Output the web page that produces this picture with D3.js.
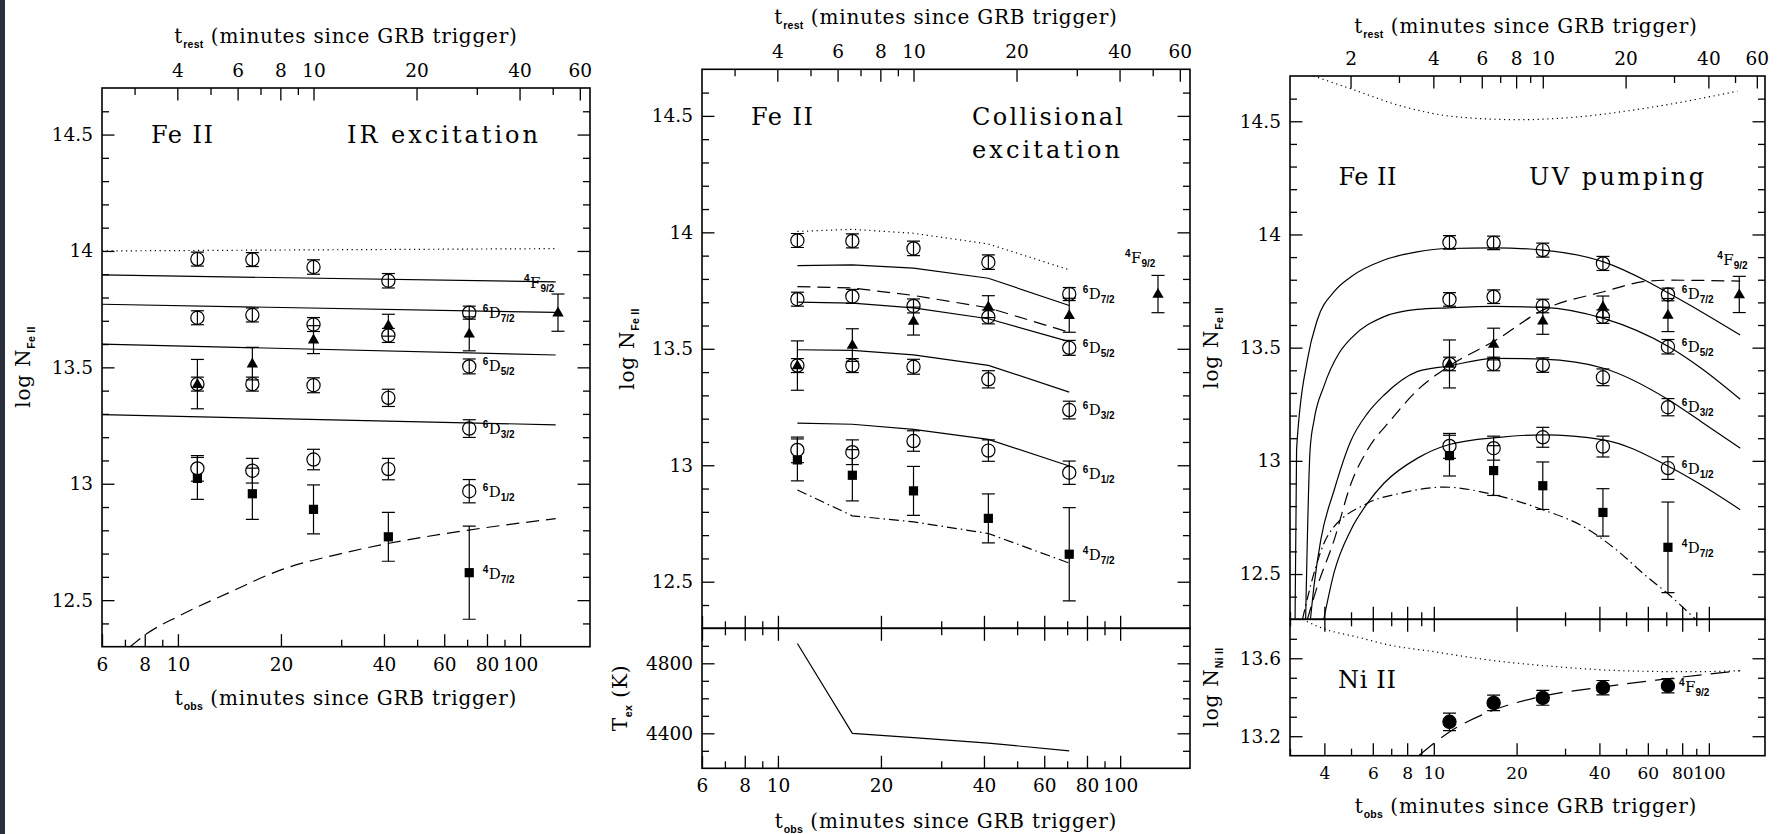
<!DOCTYPE html>
<html lang="en">
<head>
	<meta charset="UTF-8">
	<title>Fe II excited levels</title>
	<script type="text/javascript" src="https://cdn.jsdelivr.net/npm/d3@7"></script>
	<style>
		body { margin: 0; background: #fff; }
		svg text { font-family: "DejaVu Serif", "Liberation Serif", serif; fill: #000; }
		.axis text { font-size: 18.5px; letter-spacing: 0px; font-family: "DejaVu Serif", "Liberation Serif", serif; }
		.axis.tight text { font-size: 17px; }
		.axis line { stroke: #000; stroke-width: 1.3; }
		.frame { fill: none; stroke: #000; stroke-width: 1.6; }
		.title { font-size: 20px; letter-spacing: 0.8px; }
		.title .sub { font-family: "Liberation Sans", "DejaVu Sans", sans-serif; font-size: 10.5px; font-weight: bold; letter-spacing: 0.3px; }
		.big { font-size: 24px; }
		.lvl { font-size: 15px; }
		.lvl .sm { font-family: "Liberation Sans", "DejaVu Sans", sans-serif; font-size: 10px; font-weight: bold; }
		.model { fill: none; stroke: #000; stroke-width: 1.2; }
		.err line { stroke: #000; stroke-width: 1.2; }
	</style>
</head>
<body>
<div id="viz"></div>

<script type="text/javascript">
	// 1 + z : t_rest = t_obs / K
	var K = 2.49;

	// observed epochs (minutes since trigger, observer frame)
	var tObs = [11.4, 16.5, 24.9, 41.2, 71.0];
	var tF92 = [11.4, 16.5, 24.9, 41.2, 71.0, 129];

	// measured log N, Fe II excited levels
	var d72 = [13.965, 13.963, 13.931, 13.872, 13.735];
	var d72Err = [0.03, 0.03, 0.031, 0.031, 0.028];
	var d52 = [13.713, 13.725, 13.684, 13.637, 13.504];
	var d52Err = [0.03, 0.03, 0.03, 0.03, 0.032];
	var d32 = [13.428, 13.428, 13.423, 13.369, 13.237];
	var d32Err = [0.03, 0.03, 0.032, 0.037, 0.038];
	var d12 = [13.066, 13.056, 13.104, 13.063, 12.968];
	var d12Err = [0.055, 0.053, 0.044, 0.046, 0.05];
	var f92 = [13.428, 13.516, 13.619, 13.681, 13.644, 13.735];
	var f92Err = [0.106, 0.07, 0.06, 0.047, 0.073, 0.08];
	var d4 = [13.023, 12.957, 12.89, 12.772, 12.618];
	var d4Err = [0.09, 0.11, 0.105, 0.105, 0.2];
	// Ni II 4F9/2
	var ni = [13.274, 13.371, 13.397, 13.449, 13.459];
	var niErr = [0.045, 0.04, 0.038, 0.037, 0.037];

	// IR excitation model (panel 1)
	var irT = [6, 127];
	var irDot = [14.0, 14.01];
	var ir1 = [13.897, 13.867];
	var ir2 = [13.771, 13.736];
	var ir3 = [13.60, 13.553];
	var ir4 = [13.297, 13.253];
	var irDashT = [7.25, 8, 10, 14, 20, 30, 40, 70, 127];
	var irDash = [12.30, 12.35, 12.43, 12.53, 12.63, 12.70, 12.74, 12.80, 12.85];

	// collisional model (panel 2), at the observed epochs
	var colDot = [14.004, 14.013, 13.996, 13.95, 13.839];
	var col1 = [13.857, 13.86, 13.846, 13.803, 13.686];
	var colDash = [13.767, 13.761, 13.729, 13.676, 13.571];
	var col2 = [13.70, 13.696, 13.676, 13.629, 13.531];
	var col3 = [13.496, 13.493, 13.474, 13.429, 13.314];
	var col4 = [13.181, 13.176, 13.154, 13.111, 12.997];
	var colDashDot = [12.894, 12.783, 12.757, 12.707, 12.58];
	var tex = [4913, 4400, 4375, 4344, 4300];

	// UV pumping model (panel 3)
	var uvDotT = [3.65, 4.98, 7.68, 12.2, 20.7, 31.0, 57.6, 127];
	var uvDot = [14.70, 14.644, 14.566, 14.519, 14.507, 14.516, 14.556, 14.633];
	var uvAT = [3.13, 3.17, 3.47, 3.77, 4.34, 5.0, 6.6, 8.7, 11.3, 16.6, 24.9, 41.4, 60, 71.5, 93.8, 130];
	var uvA = [12.3, 13.05, 13.446, 13.622, 13.747, 13.813, 13.887, 13.923, 13.938, 13.941, 13.931, 13.879, 13.791, 13.74, 13.659, 13.556];
	var uvBT = [3.42, 3.55, 3.67, 3.98, 4.52, 5.0, 6.6, 8.7, 11.3, 16.6, 24.9, 41.4, 71.5, 93.8, 130];
	var uvB = [12.3, 13.05, 13.18, 13.328, 13.475, 13.541, 13.637, 13.669, 13.676, 13.682, 13.678, 13.629, 13.504, 13.409, 13.272];
	var uvCT = [3.56, 3.67, 3.88, 4.34, 5.0, 5.74, 6.6, 8.7, 11.3, 16.6, 24.9, 41.4, 71.5, 93.8, 130];
	var uvC = [12.3, 12.45, 12.65, 12.87, 13.09, 13.21, 13.291, 13.394, 13.419, 13.453, 13.449, 13.409, 13.269, 13.173, 13.056];
	var uvDT = [3.98, 4.34, 5.0, 5.74, 6.6, 8.73, 11.3, 17.3, 24.9, 41.4, 71.5, 93.8, 130];
	var uvD = [12.3, 12.507, 12.696, 12.813, 12.902, 13.012, 13.071, 13.104, 13.115, 13.093, 12.975, 12.894, 12.784];
	var uvDashT = [3.47, 3.77, 4.34, 5.0, 5.74, 6.98, 8.73, 11.3, 16.9, 24.9, 41.4, 60, 71.5, 130];
	var uvDash = [12.3, 12.445, 12.65, 12.9, 13.049, 13.181, 13.313, 13.416, 13.535, 13.666, 13.747, 13.794, 13.798, 13.794];
	var uvDDT = [3.33, 3.67, 4.1, 5.74, 7.6, 10.9, 16.6, 24.9, 34.9, 46.1, 59.3, 70.5, 89.5];
	var uvDD = [12.3, 12.505, 12.666, 12.813, 12.857, 12.884, 12.85, 12.784, 12.71, 12.607, 12.49, 12.416, 12.3];
	var niDotT = [3.33, 3.93, 5.2, 6.88, 10, 15.9, 27.8, 48.7, 85.2, 130];
	var niDot = [13.8, 13.754, 13.711, 13.668, 13.634, 13.591, 13.557, 13.536, 13.531, 13.536];
	var niDashT = [8.85, 11.4, 15.9, 24.2, 40.1, 64.4, 130];
	var niDash = [13.102, 13.222, 13.325, 13.402, 13.451, 13.488, 13.536];

	// tick values
	var obsMajorA = [6, 8, 10, 20, 40, 60, 80, 100];
	var obsMinorA = [7, 9, 30, 50, 70, 90];
	var obsMajorC = [4, 6, 8, 10, 20, 40, 60, 80, 100];
	var obsMinorC = [3, 5, 7, 9, 30, 50, 70, 90];
	var restMajorA = [4, 6, 8, 10, 20, 40, 60];
	var restMajorC = [2, 4, 6, 8, 10, 20, 40, 60];
	var restMinor = [3, 5, 7, 9, 30, 50];
	var feMajor = [12.5, 13, 13.5, 14, 14.5];
	var feMinor = [12.4, 12.6, 12.7, 12.8, 12.9, 13.1, 13.2, 13.3, 13.4, 13.6, 13.7, 13.8, 13.9, 14.1, 14.2, 14.3, 14.4, 14.6];
	var texMajor = [4400, 4800];
	var texMinor = [4300, 4500, 4600, 4700, 4900];
	var niMajor = [13.2, 13.6];
	var niMinor = [13.3, 13.4, 13.5, 13.7];

	window.onload = function () {

		var svg = d3.select('#viz').append('svg')
			.attr('width', 1779)
			.attr('height', 834);
		svg.append('rect').attr('width', 1779).attr('height', 834).attr('fill', '#fff');
		svg.append('rect').attr('width', 5).attr('height', 834).attr('fill', '#2b2f3b');
		var defs = svg.append('defs');
		var clipN = 0;

		function axis(g, gen, scale, vals, len, labels, pad, tr, cls) {
			var a = gen(scale).tickValues(vals).tickSize(-len).tickPadding(pad || 0)
				.tickFormat(function (d) {
					return labels.indexOf(d) >= 0 ? String(d) : '';
				});
			var s = g.append('g').attr('class', 'axis' + (cls ? ' ' + cls : '')).attr('transform', tr).call(a);
			s.select('.domain').remove();
			s.attr('font-size', null).attr('font-family', null);
		}

		function ticks(g, gen, scale, majors, minors, labels, pad, tr, cls) {
			axis(g, gen, scale, minors, 7, [], 0, tr);
			axis(g, gen, scale, majors, 12.5, labels, pad, tr, cls);
		}

		function clipFor(x0, y0, x1, y1) {
			var id = 'clip' + (clipN++);
			defs.append('clipPath').attr('id', id).append('rect')
				.attr('x', x0).attr('y', y0).attr('width', x1 - x0).attr('height', y1 - y0);
			return 'url(#' + id + ')';
		}

		function model(g, x, y, t, v, dash, curve) {
			var line = d3.line()
				.x(function (d) { return x(d[0]); })
				.y(function (d) { return y(d[1]); })
				.curve(curve || d3.curveLinear);
			g.append('path').datum(d3.zip(t, v))
				.attr('class', 'model')
				.attr('stroke-dasharray', dash)
				.attr('d', line);
		}

		function points(g, x, y, t, v, e, shape) {
			var rows = d3.zip(t, v, e);
			var eb = g.selectAll(null).data(rows).enter().append('g').attr('class', 'err');
			eb.append('line')
				.attr('x1', function (d) { return x(d[0]); })
				.attr('x2', function (d) { return x(d[0]); })
				.attr('y1', function (d) { return y(d[1] - d[2]); })
				.attr('y2', function (d) { return y(d[1] + d[2]); });
			[-1, 1].forEach(function (s) {
				eb.append('line')
					.attr('x1', function (d) { return x(d[0]) - 6.5; })
					.attr('x2', function (d) { return x(d[0]) + 6.5; })
					.attr('y1', function (d) { return y(d[1] + s * d[2]); })
					.attr('y2', function (d) { return y(d[1] + s * d[2]); });
			});
			var m = g.selectAll(null).data(rows).enter();
			if (shape === 'open' || shape === 'dot') {
				m.append('circle')
					.attr('cx', function (d) { return x(d[0]); })
					.attr('cy', function (d) { return y(d[1]); })
					.attr('r', 6.6)
					.attr('fill', shape === 'dot' ? '#000' : 'none')
					.attr('stroke', '#000').attr('stroke-width', 1.2);
			} else if (shape === 'square') {
				m.append('rect')
					.attr('x', function (d) { return x(d[0]) - 4.6; })
					.attr('y', function (d) { return y(d[1]) - 4.6; })
					.attr('width', 9.2).attr('height', 9.2).attr('fill', '#000');
			} else {
				m.append('path')
					.attr('d', d3.symbol().type(d3.symbolTriangle).size(56))
					.attr('transform', function (d) {
						return 'translate(' + x(d[0]) + ',' + (y(d[1]) + 0.5) + ')';
					})
					.attr('fill', '#000');
			}
		}

		function title(x, y, main, sub, rest, rotate) {
			var t = svg.append('text').attr('class', 'title').attr('text-anchor', 'middle')
				.attr('transform', 'translate(' + x + ',' + y + ')' + (rotate ? ' rotate(-90)' : ''));
			t.append('tspan').text(main);
			t.append('tspan').attr('class', 'sub').attr('dy', 5).text(sub);
			t.append('tspan').attr('dy', -5).text(rest);
		}

		function big(x, y, str, len) {
			svg.append('text').attr('class', 'big')
				.attr('x', x).attr('y', y)
				.attr('textLength', len).attr('lengthAdjust', 'spacing')
				.text(str);
		}

		function level(g, x, y, sup, main, sub) {
			var t = g.append('text').attr('class', 'lvl').attr('x', x).attr('y', y);
			t.append('tspan').attr('class', 'sm').attr('dy', -6).text(sup);
			t.append('tspan').attr('dy', 6).attr('dx', 0.5).text(main);
			t.append('tspan').attr('class', 'sm').attr('dy', 4).text(sub);
		}

		function fePanel(b, tDom, obsMajor, obsMinor, restMajor, bottomLabels) {
			var p = {};
			p.x = d3.scaleLog().domain(tDom).range([b.left, b.right]);
			p.xr = d3.scaleLog().domain([tDom[0] / K, tDom[1] / K]).range([b.left, b.right]);
			p.y = d3.scaleLinear().domain([12.3, 14.7]).range([b.bottom, b.top]);
			p.g = svg.append('g');
			p.plot = p.g.append('g').attr('clip-path', clipFor(b.left, b.top, b.right, b.bottom));

			ticks(p.g, d3.axisTop, p.xr, restMajor, restMinor, restMajor, 11, 'translate(0,' + b.top + ')');
			ticks(p.g, d3.axisBottom, p.x, obsMajor, obsMinor, bottomLabels ? obsMajor : [], 11, 'translate(0,' + b.bottom + ')');
			ticks(p.g, d3.axisLeft, p.y, feMajor, feMinor, feMajor, 9, 'translate(' + b.left + ',0)');
			ticks(p.g, d3.axisRight, p.y, feMajor, feMinor, [], 0, 'translate(' + b.right + ',0)');
			p.g.append('rect').attr('class', 'frame')
				.attr('x', b.left).attr('y', b.top)
				.attr('width', b.right - b.left).attr('height', b.bottom - b.top);
			return p;
		}

		function feData(p) {
			points(p.plot, p.x, p.y, tObs, d72, d72Err, 'open');
			points(p.plot, p.x, p.y, tObs, d52, d52Err, 'open');
			points(p.plot, p.x, p.y, tObs, d32, d32Err, 'open');
			points(p.plot, p.x, p.y, tObs, d12, d12Err, 'open');
			points(p.plot, p.x, p.y, tObs, d4, d4Err, 'square');
			points(p.plot, p.x, p.y, tF92, f92, f92Err, 'tri');
		}

		function feLabels(p, dx) {
			var lx = p.x(tObs[4]) + dx;
			level(p.g, lx, p.y(d72[4]) + 5, '6', 'D', '7/2');
			level(p.g, lx, p.y(d52[4]) + 5, '6', 'D', '5/2');
			level(p.g, lx, p.y(d32[4]) + 5, '6', 'D', '3/2');
			level(p.g, lx, p.y(d12[4]) + 6, '6', 'D', '1/2');
			level(p.g, lx, p.y(d4[4]) + 6, '4', 'D', '7/2');
		}

		function lowerPanel(b, yDom) {
			var q = {};
			q.y = d3.scaleLinear().domain(yDom).range([b.low, b.bottom]);
			q.g = svg.append('g');
			q.plot = q.g.append('g').attr('clip-path', clipFor(b.left, b.bottom, b.right, b.low));
			return q;
		}

		// ---------- panel 1 : IR excitation ----------
		var b1 = {left: 102, right: 590, top: 88, bottom: 646.7};
		var p1 = fePanel(b1, [6, 160], obsMajorA, obsMinorA, restMajorA, true);
		model(p1.plot, p1.x, p1.y, irT, irDot, '1.2,3.6');
		model(p1.plot, p1.x, p1.y, irT, ir1, null);
		model(p1.plot, p1.x, p1.y, irT, ir2, null);
		model(p1.plot, p1.x, p1.y, irT, ir3, null);
		model(p1.plot, p1.x, p1.y, irT, ir4, null);
		model(p1.plot, p1.x, p1.y, irDashT, irDash, '13,7', d3.curveMonotoneX);
		feData(p1);
		feLabels(p1, 13.4);
		level(p1.g, p1.x(tF92[5]) - 34, p1.y(ir1[1]) + 6, '4', 'F', '9/2');
		big(151, 143, 'Fe II', 62);
		big(347, 143, 'IR excitation', 191);
		title(346, 43.3, 't', 'rest', ' (minutes since GRB trigger)');
		title(346, 705, 't', 'obs', ' (minutes since GRB trigger)');
		title(30, 367, 'log N', 'Fe II', '', true);

		// ---------- panel 2 : collisional excitation ----------
		var b2 = {left: 702, right: 1190, top: 69.3, bottom: 628.3, low: 768.3};
		var p2 = fePanel(b2, [6, 160], obsMajorA, obsMinorA, restMajorA, false);
		model(p2.plot, p2.x, p2.y, tObs, colDot, '1.2,3.6');
		model(p2.plot, p2.x, p2.y, tObs, col1, null);
		model(p2.plot, p2.x, p2.y, tObs, colDash, '13,7');
		model(p2.plot, p2.x, p2.y, tObs, col2, null);
		model(p2.plot, p2.x, p2.y, tObs, col3, null);
		model(p2.plot, p2.x, p2.y, tObs, col4, null);
		model(p2.plot, p2.x, p2.y, tObs, colDashDot, '10,4,1.5,4');
		feData(p2);
		feLabels(p2, 13.4);
		level(p2.g, p2.x(tF92[5]) - 33, p2.y(f92[5] + f92Err[5]) - 12, '4', 'F', '9/2');
		big(751, 125, 'Fe II', 62);
		big(972, 125, 'Collisional', 151);
		big(972, 158.3, 'excitation', 148);

		var q2 = lowerPanel(b2, [4200, 5000]);
		ticks(q2.g, d3.axisTop, p2.x, obsMajorA, obsMinorA, [], 0, 'translate(0,' + b2.bottom + ')');
		ticks(q2.g, d3.axisBottom, p2.x, obsMajorA, obsMinorA, obsMajorA, 11, 'translate(0,' + b2.low + ')');
		ticks(q2.g, d3.axisLeft, q2.y, texMajor, texMinor, texMajor, 9, 'translate(' + b2.left + ',0)');
		ticks(q2.g, d3.axisRight, q2.y, texMajor, texMinor, [], 0, 'translate(' + b2.right + ',0)');
		q2.g.append('rect').attr('class', 'frame')
			.attr('x', b2.left).attr('y', b2.bottom)
			.attr('width', b2.right - b2.left).attr('height', b2.low - b2.bottom);
		model(q2.plot, p2.x, q2.y, tObs, tex, null);
		title(946, 24, 't', 'rest', ' (minutes since GRB trigger)');
		title(946, 828, 't', 'obs', ' (minutes since GRB trigger)');
		title(634, 349, 'log N', 'Fe II', '', true);
		title(627, 698, 'T', 'ex', '  (K)', true);

		// ---------- panel 3 : UV pumping ----------
		var b3 = {left: 1290, right: 1765, top: 76, bottom: 619.3, low: 755.7};
		var p3 = fePanel(b3, [3, 160], obsMajorC, obsMinorC, restMajorC, false);
		var smooth = d3.curveMonotoneX;
		model(p3.plot, p3.x, p3.y, uvDotT, uvDot, '1.2,3.6', smooth);
		model(p3.plot, p3.x, p3.y, uvAT, uvA, null, smooth);
		model(p3.plot, p3.x, p3.y, uvBT, uvB, null, smooth);
		model(p3.plot, p3.x, p3.y, uvCT, uvC, null, smooth);
		model(p3.plot, p3.x, p3.y, uvDT, uvD, null, smooth);
		model(p3.plot, p3.x, p3.y, uvDashT, uvDash, '13,7', smooth);
		model(p3.plot, p3.x, p3.y, uvDDT, uvDD, '10,4,1.5,4', smooth);
		feData(p3);
		feLabels(p3, 13.7);
		level(p3.g, p3.x(tF92[5]) - 22, p3.y(f92[5] + f92Err[5]) - 11, '4', 'F', '9/2');
		big(1338.5, 185, 'Fe II', 58);
		big(1529, 185, 'UV pumping', 175);

		var q3 = lowerPanel(b3, [13.1, 13.8]);
		ticks(q3.g, d3.axisTop, p3.x, obsMajorC, obsMinorC, [], 0, 'translate(0,' + b3.bottom + ')');
		ticks(q3.g, d3.axisBottom, p3.x, obsMajorC, obsMinorC, obsMajorC, 11.5, 'translate(0,' + b3.low + ')', 'tight');
		ticks(q3.g, d3.axisLeft, q3.y, niMajor, niMinor, niMajor, 9, 'translate(' + b3.left + ',0)');
		ticks(q3.g, d3.axisRight, q3.y, niMajor, niMinor, [], 0, 'translate(' + b3.right + ',0)');
		q3.g.append('rect').attr('class', 'frame')
			.attr('x', b3.left).attr('y', b3.bottom)
			.attr('width', b3.right - b3.left).attr('height', b3.low - b3.bottom);
		model(q3.plot, p3.x, q3.y, niDotT, niDot, '1.2,3.6', smooth);
		model(q3.plot, p3.x, q3.y, niDashT, niDash, '19,9', smooth);
		points(q3.plot, p3.x, q3.y, tObs, ni, niErr, 'dot');
		level(q3.g, p3.x(tObs[4]) + 11, q3.y(ni[4]) + 6, '4', 'F', '9/2');
		big(1338, 688, 'Ni II', 58);

		title(1526, 33.3, 't', 'rest', ' (minutes since GRB trigger)');
		title(1526, 813, 't', 'obs', ' (minutes since GRB trigger)');
		title(1218, 348, 'log N', 'Fe II', '', true);
		title(1218, 687.5, 'log N', 'Ni II', '', true);
	};
</script>
</body>
</html>
